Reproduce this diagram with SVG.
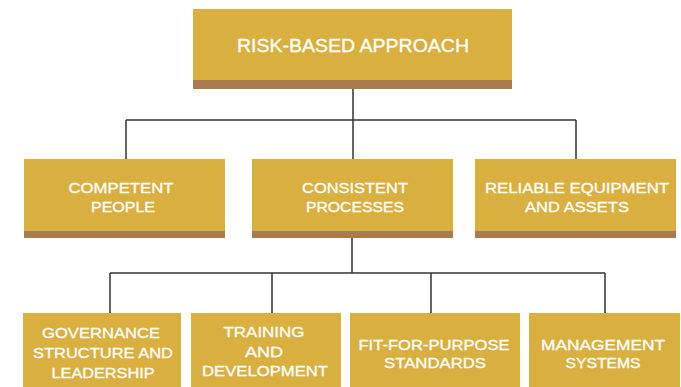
<svg xmlns="http://www.w3.org/2000/svg" width="681" height="387" viewBox="0 0 681 387">
<style>
.box{fill:#D9B040}
.stripe{fill:#A87C4F}
.t{font-family:"Liberation Sans",Arial,sans-serif;font-size:15px;fill:#ffffff;stroke:#ffffff;stroke-width:0.3;text-anchor:middle}
.tt{font-size:18px}
.c{stroke:#333333;stroke-width:1.5;fill:none}
</style>
<rect width="681" height="387" fill="#ffffff"/>
<g id="connectors">
<path class="c" d="M353 89V120M126 120H576M126 120V159M353 120V159M576 120V159"/>
<path class="c" d="M352 238V273M110 273H605M110 273V313M272 273V313M431 273V313M605 273V313"/>
</g>
<g id="risk-based-approach">
<rect class="box" x="193" y="9" width="319" height="80"/>
<rect class="stripe" x="193" y="80" width="319" height="9"/>
<text class="t tt" x="353" y="52" textLength="232" lengthAdjust="spacingAndGlyphs">RISK-BASED APPROACH</text>
</g>
<g id="competent-people">
<rect class="box" x="24" y="159" width="201" height="79"/>
<rect class="stripe" x="24" y="231" width="201" height="7"/>
<text class="t" x="121" y="193" textLength="105" lengthAdjust="spacingAndGlyphs">COMPETENT</text>
<text class="t" x="123" y="212" textLength="64" lengthAdjust="spacingAndGlyphs">PEOPLE</text>
</g>
<g id="consistent-processes">
<rect class="box" x="252" y="159" width="201" height="79"/>
<rect class="stripe" x="252" y="231" width="201" height="7"/>
<text class="t" x="355" y="193" textLength="106" lengthAdjust="spacingAndGlyphs">CONSISTENT</text>
<text class="t" x="355" y="212" textLength="98" lengthAdjust="spacingAndGlyphs">PROCESSES</text>
</g>
<g id="reliable-equipment">
<rect class="box" x="475" y="159" width="201" height="79"/>
<rect class="stripe" x="475" y="231" width="201" height="7"/>
<text class="t" x="577" y="193" textLength="184" lengthAdjust="spacingAndGlyphs">RELIABLE EQUIPMENT</text>
<text class="t" x="577" y="212" textLength="104" lengthAdjust="spacingAndGlyphs">AND ASSETS</text>
</g>
<g id="governance">
<rect class="box" x="23" y="313" width="158" height="74"/>
<text class="t" x="101" y="338" textLength="118" lengthAdjust="spacingAndGlyphs">GOVERNANCE</text>
<text class="t" x="103" y="358" textLength="140" lengthAdjust="spacingAndGlyphs">STRUCTURE AND</text>
<text class="t" x="103" y="378" textLength="103" lengthAdjust="spacingAndGlyphs">LEADERSHIP</text>
</g>
<g id="training">
<rect class="box" x="191" y="313" width="150" height="74"/>
<text class="t" x="264" y="337" textLength="81" lengthAdjust="spacingAndGlyphs">TRAINING</text>
<text class="t" x="264" y="357" textLength="38" lengthAdjust="spacingAndGlyphs">AND</text>
<text class="t" x="265" y="376" textLength="126" lengthAdjust="spacingAndGlyphs">DEVELOPMENT</text>
</g>
<g id="fit-for-purpose">
<rect class="box" x="350" y="313" width="170" height="74"/>
<text class="t" x="434" y="350" textLength="151" lengthAdjust="spacingAndGlyphs">FIT-FOR-PURPOSE</text>
<text class="t" x="435" y="368" textLength="102" lengthAdjust="spacingAndGlyphs">STANDARDS</text>
</g>
<g id="management-systems">
<rect class="box" x="529" y="313" width="151" height="74"/>
<text class="t" x="603" y="350" textLength="124" lengthAdjust="spacingAndGlyphs">MANAGEMENT</text>
<text class="t" x="603" y="368" textLength="75" lengthAdjust="spacingAndGlyphs">SYSTEMS</text>
</g>
</svg>
